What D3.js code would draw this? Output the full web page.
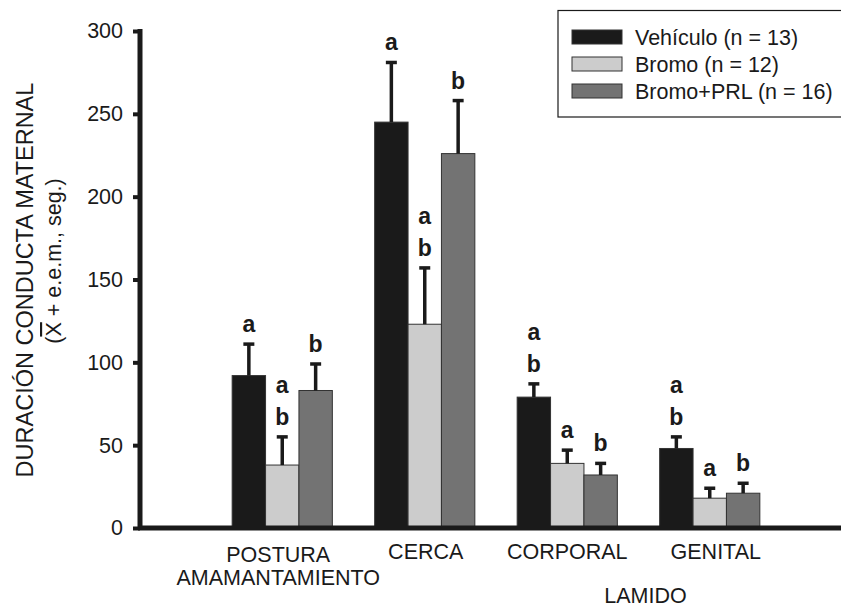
<!DOCTYPE html>
<html>
<head>
<meta charset="utf-8">
<script src="https://cdn.jsdelivr.net/npm/d3@7"></script>
<style>
  html, body { margin: 0; padding: 0; background: #fff; }
  svg { display: block; font-family: "Liberation Sans", Arial, Helvetica, sans-serif; }
</style>
</head>
<body>
<svg id="chart" width="841" height="610"></svg>
<script>
// ---- data ----
const categories = ["POSTURA", "CERCA", "CORPORAL", "GENITAL"];
const categorySubLabels = ["AMAMANTAMIENTO", "", "", ""];
const groupLabel = "LAMIDO";
const seriesNames = ["Vehículo (n = 13)", "Bromo (n = 12)", "Bromo+PRL (n = 16)"];
const vehiculo = [92, 245, 79, 48];
const vehiculoErr = [19, 36, 8, 7];
const bromo = [38, 123, 39, 18];
const bromoErr = [17, 34, 8, 6];
const bromoPRL = [83, 226, 32, 21];
const bromoPRLErr = [16, 32, 7, 6];
const vehiculoSig = [["a"], ["a"], ["a", "b"], ["a", "b"]];
const bromoSig = [["a", "b"], ["a", "b"], ["a"], ["a"]];
const bromoPRLSig = [["b"], ["b"], ["b"], ["b"]];
const yTicks = [0, 50, 100, 150, 200, 250, 300];

// ---- style ----
const colors = ["#1a1a1a", "#cccccc", "#737373"];
const ink = "#1a1a1a";
const labelDx = [-4, 1, 0, 6];

const seriesVals = [vehiculo, bromo, bromoPRL];
const seriesErr = [vehiculoErr, bromoErr, bromoPRLErr];
const seriesSig = [vehiculoSig, bromoSig, bromoPRLSig];

const rows = [];
categories.forEach((c, ci) => {
  seriesNames.forEach((s, si) => {
    rows.push({cat: c, ci, si, v: seriesVals[si][ci], e: seriesErr[si][ci], sig: seriesSig[si][ci]});
  });
});

const svg = d3.select("#chart");
const y0 = 528, yTop = 31, axisX = 140;

const y = d3.scaleLinear().domain([0, 300]).range([y0, yTop]);
const x = d3.scaleBand().domain(categories).range([211, 781])
  .paddingInner(0.297).paddingOuter(0.1485);
const xs = d3.scaleBand().domain(d3.range(seriesNames.length)).range([0, x.bandwidth()]).padding(0);

// bars
const g = svg.append("g");
g.selectAll("rect.bar").data(rows).join("rect")
  .attr("class", "bar")
  .attr("x", d => x(d.cat) + xs(d.si))
  .attr("y", d => y(d.v))
  .attr("width", xs.bandwidth())
  .attr("height", d => y(0) - y(d.v))
  .attr("fill", d => colors[d.si])
  .attr("stroke", "#333")
  .attr("stroke-width", 1);

// error bars
const capW = 11;
g.selectAll("line.err").data(rows).join("line")
  .attr("class", "err")
  .attr("x1", d => x(d.cat) + xs(d.si) + xs.bandwidth() / 2)
  .attr("x2", d => x(d.cat) + xs(d.si) + xs.bandwidth() / 2)
  .attr("y1", d => y(d.v))
  .attr("y2", d => y(d.v + d.e))
  .attr("stroke", ink).attr("stroke-width", 3.5);
g.selectAll("line.cap").data(rows).join("line")
  .attr("class", "cap")
  .attr("x1", d => x(d.cat) + xs(d.si) + xs.bandwidth() / 2 - capW / 2)
  .attr("x2", d => x(d.cat) + xs(d.si) + xs.bandwidth() / 2 + capW / 2)
  .attr("y1", d => y(d.v + d.e))
  .attr("y2", d => y(d.v + d.e))
  .attr("stroke", ink).attr("stroke-width", 3.5);

// significance letters
rows.forEach(d => {
  const cx = x(d.cat) + xs(d.si) + xs.bandwidth() / 2;
  const base = y(d.v + d.e) - 12;
  const n = d.sig.length;
  d.sig.forEach((s, k) => {
    g.append("text")
      .attr("x", cx)
      .attr("y", base - (n - 1 - k) * 32)
      .attr("text-anchor", "middle")
      .attr("font-size", 23)
      .attr("font-weight", "bold")
      .attr("fill", ink)
      .text(s);
  });
});

// y axis
const yAxis = d3.axisLeft(y).tickValues(yTicks).tickSize(7).tickSizeOuter(0).tickPadding(10);
const ya = svg.append("g").attr("transform", `translate(${axisX},0)`).call(yAxis);
ya.select(".domain").remove();
ya.selectAll(".tick line").attr("stroke", ink).attr("stroke-width", 4);
ya.selectAll(".tick text").attr("font-size", 21.5).attr("fill", ink)
  .attr("font-family", "'Liberation Sans', Arial, sans-serif");

// axis lines
svg.append("line").attr("x1", axisX).attr("x2", axisX).attr("y1", y(300) - 2).attr("y2", y0 + 2)
  .attr("stroke", ink).attr("stroke-width", 5);
svg.append("line").attr("x1", axisX - 2).attr("x2", 841).attr("y1", y0).attr("y2", y0)
  .attr("stroke", ink).attr("stroke-width", 5);

// x labels
categories.forEach((c, ci) => {
  const cx = x(c) + x.bandwidth() / 2 + labelDx[ci];
  const sub = categorySubLabels[ci];
  svg.append("text").attr("x", cx).attr("y", sub ? 562 : 559)
    .attr("text-anchor", "middle").attr("font-size", 21.5).attr("fill", ink).text(c);
  if (sub) {
    svg.append("text").attr("x", cx).attr("y", 585)
      .attr("text-anchor", "middle").attr("font-size", 21.5).attr("fill", ink).text(sub);
  }
});
const lamX = (x("CORPORAL") + x("GENITAL") + x.bandwidth()) / 2 + 7;
svg.append("text").attr("x", lamX).attr("y", 603)
  .attr("text-anchor", "middle").attr("font-size", 21.5).attr("fill", ink).text(groupLabel);

// y title
const t1 = svg.append("text")
  .attr("transform", "translate(33,280) rotate(-90)")
  .attr("text-anchor", "middle").attr("font-size", 23.5).attr("fill", ink)
  .text("DURACIÓN CONDUCTA MATERNAL");
const t2 = svg.append("text")
  .attr("transform", "translate(61,261) rotate(-90)")
  .attr("text-anchor", "middle").attr("font-size", 21.5).attr("fill", ink);
t2.append("tspan").text("(");
t2.append("tspan").attr("text-decoration", "overline").style("text-decoration", "overline").text("X");
t2.append("tspan").text(" + e.e.m., seg.)");

// legend
const leg = svg.append("g");
leg.append("rect").attr("x", 558).attr("y", 10.5).attr("width", 300).attr("height", 106.5)
  .attr("fill", "#fff").attr("stroke", ink).attr("stroke-width", 1.2);
const legRowY = d3.scalePoint().domain(d3.range(seriesNames.length)).range([37, 91]);
seriesNames.forEach((s, si) => {
  leg.append("rect").attr("x", 572).attr("y", legRowY(si) - 7).attr("width", 50).attr("height", 14)
    .attr("fill", colors[si]).attr("stroke", "#333").attr("stroke-width", 1);
  leg.append("text").attr("x", 635).attr("y", legRowY(si) + 7.5)
    .attr("font-size", 21.5).attr("fill", ink).text(s);
});
</script>
</body>
</html>
